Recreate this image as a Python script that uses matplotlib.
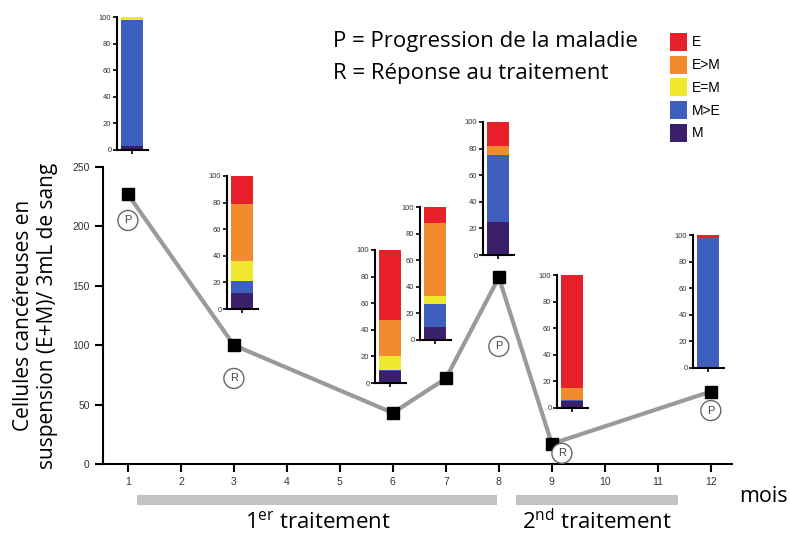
import matplotlib.pyplot as plt
from matplotlib.patches import Rectangle, Patch

plt.rcParams['font.family'] = ['Open Sans', 'DejaVu Sans']
plt.rcParams['mathtext.fontset'] = 'custom'
plt.rcParams['mathtext.rm'] = 'Open Sans'

# main series: circulating tumour cells per 3 mL blood
months = [1, 3, 6, 7, 8, 9, 12]
cells = [227, 100, 43, 72, 157, 17, 61]

# labels under some of the points
tags = ['P', 'R', None, None, 'P', 'R', 'P']

# composition of each sample (%), bottom to top
categories = ['M', 'M>E', 'E=M', 'E>M', 'E']
pct_M = [3, 12, 9, 10, 25, 5, 0]
pct_MgtE = [95, 9, 1, 17, 50, 1, 98]
pct_EeqM = [2, 15, 10, 6, 0, 0, 0]
pct_EgtM = [0, 43, 27, 55, 7, 9, 0]
pct_E = [0, 21, 53, 12, 18, 85, 2]

colors = {'E': '#e8202a', 'E>M': '#f28a2e', 'E=M': '#efe82c',
          'M>E': '#3f5fbf', 'M': '#3a1f6b'}

W, H = 790, 533
fig = plt.figure(figsize=(W / 100, H / 100), dpi=100)


def px_box(x0, y0, x1, y1):
    return [x0 / W, 1 - y1 / H, (x1 - x0) / W, (y1 - y0) / H]


ax = fig.add_axes(px_box(103, 167, 732, 464))
ax.plot(months, cells, color='#9a9a9a', lw=3, zorder=2)
ax.plot(months, cells, 's', color='black', ms=8, zorder=3)
ax.set_xlim(0.53, 12.4)
ax.set_ylim(0, 250)
ax.set_xticks(range(1, 13))
ax.set_yticks(range(0, 251, 50))
for s in ['top', 'right']:
    ax.spines[s].set_visible(False)
for s in ['left', 'bottom']:
    ax.spines[s].set_linewidth(1.5)
ax.tick_params(length=6, width=1.5, labelsize=7.5, labelcolor='#333333')
for lab in ax.get_xticklabels() + ax.get_yticklabels():
    lab.set_family('Liberation Sans')

# circled P / R tags (layout positions)
tag_pos = [(1, 205), (3, 72), None, None, (8, 99), (9.19, 9), (12, 45)]
for t, pos in zip(tags, tag_pos):
    if t is None:
        continue
    ax.text(pos[0], pos[1], t, ha='center', va='center', fontsize=8,
            family='Liberation Sans', color='#444444', zorder=4,
            bbox=dict(boxstyle='circle,pad=0.45', fc='white', ec='#666666', lw=1))

ax.set_ylabel('Cellules cancéreuses en\nsuspension (E+M)/ 3mL de sang',
              fontsize=15, linespacing=1.2)
ax.yaxis.set_label_coords(-0.072, 0.5)

# treatment periods
tr = ax.get_xaxis_transform()
for a, b in [(1.17, 7.96), (8.32, 11.38)]:
    ax.add_patch(Rectangle((a, -0.138), b - a, 0.034, transform=tr,
                           fc='#c3c3c3', ec='none', clip_on=False))
ax.text(4.58, -0.195, r'1$^{\mathrm{er}}$ traitement', transform=tr,
        ha='center', va='center', fontsize=16)
ax.text(9.85, -0.195, r'2$^{\mathrm{nd}}$ traitement', transform=tr,
        ha='center', va='center', fontsize=16)
ax.text(12.53, -0.11, 'mois', transform=tr, ha='left', va='center', fontsize=15.5)

# stacked composition insets
inset_px = [(117, 17), (227, 176), (375, 250), (420, 207),
            (483, 122), (557, 275), (693, 235)]
stacks = [pct_M, pct_MgtE, pct_EeqM, pct_EgtM, pct_E]
for i, (x0, ytop) in enumerate(inset_px):
    iax = fig.add_axes(px_box(x0, ytop, x0 + 31, ytop + 133))
    bottom = 0
    for cat, vals in zip(categories, stacks):
        v = vals[i]
        if v > 0:
            iax.bar(0, v, width=1, bottom=bottom, color=colors[cat], lw=0)
        bottom += v
    iax.set_xlim(-0.68, 0.72)
    iax.set_ylim(0, 100)
    iax.patch.set_alpha(0)
    for s in ['top', 'right']:
        iax.spines[s].set_visible(False)
    for s in ['left', 'bottom']:
        iax.spines[s].set_linewidth(1.5)
    iax.set_yticks(range(0, 101, 20))
    iax.set_xticks([0])
    iax.set_xticklabels([])
    iax.tick_params(length=3, width=1.2, labelsize=5.5, pad=1, labelcolor='#333333')
    for lab in iax.get_yticklabels():
        lab.set_family('Liberation Sans')

# key text
fig.text(333 / W, 1 - 42 / H, 'P = Progression de la maladie', fontsize=16,
         va='center', ha='left')
fig.text(333 / W, 1 - 73 / H, 'R = Réponse au traitement', fontsize=16,
         va='center', ha='left')

legend_order = ['E', 'E>M', 'E=M', 'M>E', 'M']
handles = [Patch(fc=colors[c], ec='none') for c in legend_order]
fig.legend(handles, legend_order, loc='upper left',
           bbox_to_anchor=(670 / W, 1 - 33 / H), frameon=False,
           prop={'family': 'Liberation Sans', 'size': 10},
           handlelength=1.2, handleheight=1.6, handletextpad=0.4,
           labelspacing=0.35, borderaxespad=0, borderpad=0)

fig.savefig('out.png', dpi=100)
